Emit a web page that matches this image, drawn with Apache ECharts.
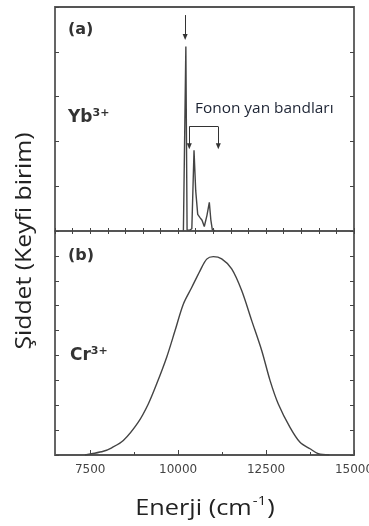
<!DOCTYPE html>
<html>
<head>
<meta charset="utf-8">
<script src="https://cdn.jsdelivr.net/npm/echarts@6/dist/echarts.min.js"></script>
<style>
  html, body { margin: 0; padding: 0; background: #fff; }
  #chart { width: 369px; height: 526px; }
</style>
</head>
<body>
<div id="chart"></div>
<script>
// panel (a): Yb3+ emission, sharp zero-phonon line plus phonon side bands
const ybEnergy = [10150, 10205, 10220, 10240, 10255, 10330, 10390, 10452, 10500, 10557, 10622, 10680, 10744, 10820, 10887, 10930, 10972, 11050]
const ybIntensity = [0, 0, 4.12, 4.12, 0.02, 0.02, 0.05, 1.80, 0.90, 0.37, 0.30, 0.24, 0.10, 0.35, 0.64, 0.25, 0.03, 0]

// panel (b): Cr3+ broad band
const crEnergy = [7350, 7543, 7873, 8112, 8442, 8868, 9152, 9391, 9675, 9911, 10147, 10386, 10622, 10813, 11000, 11239, 11523, 11807, 12092, 12376, 12612, 12848, 13181, 13465, 13749, 13985, 14300]
const crIntensity = [0, 0.05, 0.15, 0.29, 0.58, 1.32, 2.05, 2.86, 3.93, 4.99, 6.06, 6.73, 7.40, 7.87, 7.97, 7.88, 7.48, 6.61, 5.40, 4.20, 3.00, 2.05, 1.11, 0.51, 0.25, 0.05, 0]

const majorTicks = [7500, 10000, 12500, 15000]
const minorTicks = [8750, 11250, 13750]

const xMin = 6500
const xMax = 15000
const ink = '#444'

const chart = echarts.init(document.getElementById('chart'))

function pairs (xs, ys) {
  return xs.map((x, i) => [x, ys[i]])
}

function tickAxis (grid, position, opts) {
  return Object.assign({
    type: 'value',
    gridIndex: grid,
    position: position,
    min: xMin,
    max: xMax,
    axisLine: { show: false },
    splitLine: { show: false },
    axisLabel: { show: false },
    axisTick: { show: true, inside: true, length: 3, lineStyle: { color: ink, width: 1 } }
  }, opts)
}

function yTicks (grid, position, max) {
  return {
    type: 'value',
    gridIndex: grid,
    position: position,
    min: 0,
    max: max,
    interval: 1,
    axisLine: { show: false },
    splitLine: { show: false },
    axisLabel: { show: false },
    axisTick: { show: true, inside: true, length: 4, lineStyle: { color: ink, width: 1 } }
  }
}

const arrowLine = {
  silent: true,
  symbol: ['none', 'triangle'],
  symbolSize: [5, 6],
  label: { show: false },
  lineStyle: { color: '#333', width: 1, type: 'solid' },
  data: [
    [{ coord: [10200, 4.82] }, { coord: [10200, 4.33] }],
    [{ coord: [10318, 2.33], symbol: 'none' }, { coord: [11142, 2.33], symbol: 'none' }],
    [{ coord: [10318, 2.33] }, { coord: [10318, 1.89] }],
    [{ coord: [11142, 2.33] }, { coord: [11142, 1.89] }]
  ]
}

const boldText = { fontFamily: 'DejaVu Sans', fontWeight: 'bold', fill: '#333' }

const option = {
  animation: false,
  backgroundColor: '#fff',
  grid: [
    { left: 55, top: 7, width: 299, height: 224, outerBoundsMode: 'none', containLabel: false, show: true, borderColor: '#555', borderWidth: 1.8 },
    { left: 55, top: 231, width: 299, height: 224, outerBoundsMode: 'none', containLabel: false, show: true, borderColor: '#555', borderWidth: 1.8 }
  ],
  xAxis: [
    tickAxis(0, 'bottom', { interval: 500 }),
    tickAxis(0, 'top', { interval: 500 }),
    tickAxis(1, 'bottom', {
      axisTick: { show: true, inside: true, length: 5, customValues: majorTicks, lineStyle: { color: ink, width: 1 } },
      axisLabel: {
        show: true,
        customValues: majorTicks,
        margin: 9,
        color: '#444',
        fontSize: 12,
        fontFamily: 'DejaVu Sans',
        formatter: (v) => String(v)
      }
    }),
    tickAxis(1, 'bottom', {
      axisTick: { show: true, inside: true, length: 3, customValues: minorTicks, lineStyle: { color: ink, width: 1 } }
    })
  ],
  yAxis: [
    yTicks(0, 'left', 5),
    yTicks(0, 'right', 5),
    yTicks(1, 'left', 9),
    yTicks(1, 'right', 9)
  ],
  series: [
    {
      type: 'line',
      xAxisIndex: 0,
      yAxisIndex: 0,
      data: pairs(ybEnergy, ybIntensity),
      showSymbol: false,
      lineStyle: { color: ink, width: 1.4 },
      markLine: arrowLine
    },
    {
      type: 'line',
      xAxisIndex: 2,
      yAxisIndex: 2,
      data: pairs(crEnergy, crIntensity),
      showSymbol: false,
      smooth: 0.3,
      lineStyle: { color: ink, width: 1.4 }
    }
  ],
  graphic: [
    { type: 'text', left: 68, top: 22, style: Object.assign({ text: '(a)', fontSize: 16 }, boldText) },
    { type: 'text', left: 68, top: 248, style: Object.assign({ text: '(b)', fontSize: 16 }, boldText) },
    {
      type: 'text', left: 68, top: 108,
      style: {
        text: '{b|Yb}{s|3+}',
        rich: {
          b: Object.assign({ fontSize: 17, verticalAlign: 'bottom' }, boldText),
          s: Object.assign({ fontSize: 11, padding: [0, 0, 7, 0], verticalAlign: 'bottom' }, boldText)
        }
      }
    },
    {
      type: 'text', left: 70, top: 346,
      style: {
        text: '{b|Cr}{s|3+}',
        rich: {
          b: Object.assign({ fontSize: 17, verticalAlign: 'bottom' }, boldText),
          s: Object.assign({ fontSize: 11, padding: [0, 0, 7, 0], verticalAlign: 'bottom' }, boldText)
        }
      }
    },
    {
      type: 'text', x: 195, y: 102, scaleX: 1.1,
      style: { text: 'Fonon yan bandları', fontSize: 14, fontFamily: 'Open Sans', fill: '#1c2333' }
    },
    {
      type: 'text', x: 25, y: 241, rotation: Math.PI / 2, scaleX: 1.18,
      style: {
        text: 'Şiddet (Keyfi birim)',
        fontSize: 21,
        fontFamily: 'Open Sans',
        fill: '#222',
        align: 'center',
        verticalAlign: 'middle'
      }
    },
    {
      type: 'text', x: 205, y: 507, scaleX: 1.15,
      style: {
        text: '{t|Enerji (cm}{s|-1}{t|)}',
        align: 'center',
        verticalAlign: 'middle',
        rich: {
          t: { fontSize: 22, fontFamily: 'Open Sans', fill: '#222', verticalAlign: 'bottom' },
          s: { fontSize: 13, fontFamily: 'Open Sans', fill: '#222', padding: [0, 1, 12, 1], verticalAlign: 'bottom' }
        }
      }
    }
  ]
}

chart.setOption(option)
</script>
</body>
</html>
